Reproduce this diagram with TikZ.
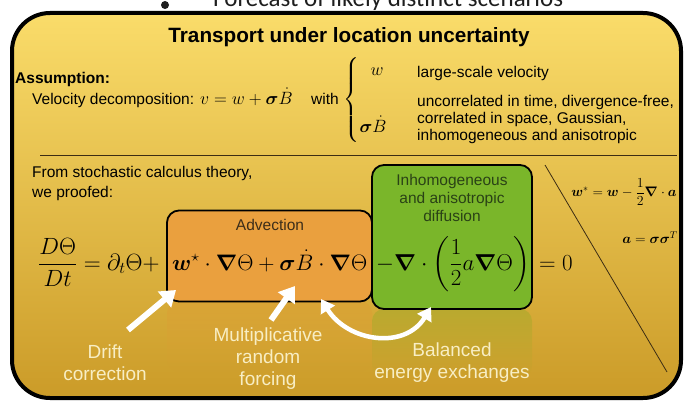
\RequirePackage{fix-cm}
\documentclass[tikz,border=0pt]{standalone}
\usepackage{amsmath,amssymb}
\usepackage[no-math]{fontspec}
\setmainfont{Liberation Sans}
\newfontfamily\slidefont{Carlito}
\usetikzlibrary{arrows.meta,fadings}
\definecolor{bgtop}{RGB}{250,220,106}
\definecolor{bgmid}{RGB}{236,192,78}
\definecolor{bgbot}{RGB}{203,155,40}
\definecolor{orangebox}{RGB}{234,160,62}
\definecolor{greenbox}{RGB}{122,182,42}
\definecolor{greentext}{RGB}{42,66,22}
\definecolor{advtext}{RGB}{60,45,25}
\definecolor{cream}{RGB}{248,238,196}
\definecolor{topgray}{RGB}{30,30,30}
\definecolor{rulecol}{RGB}{60,45,20}
\tikzfading[name=reflfade, top color=transparent!45, bottom color=transparent!100]
\tikzset{
  body/.style={font=\fontsize{15.5}{17}\selectfont, inner sep=0pt, anchor=base west},
  mathbig/.style={font=\fontsize{23}{27}\selectfont, inner sep=0pt, anchor=base west},
  mathmid/.style={font=\fontsize{17.8}{20}\selectfont, inner sep=0pt},
  mathsmall/.style={font=\fontsize{13.8}{15}\selectfont, inner sep=0pt},
  boxlabel/.style={font=\fontsize{15.5}{18}\selectfont, inner sep=0pt, align=center},
  armlabel/.style={font=\fontsize{19}{22}\selectfont, text=cream, inner sep=0pt, align=center},
  advbox/.style={draw=black, line width=1.8pt, rounded corners=12pt, fill=orangebox, inner sep=0pt},
  difbox/.style={draw=black, line width=1.8pt, rounded corners=12pt, fill=greenbox, inner sep=0pt},
  warrow/.style={draw=white, line width=6pt, -{Triangle[width=20pt,length=15pt]}},
  wdarrow/.style={draw=white, line width=4.5pt, {Triangle[width=16pt,length=13pt]}-{Triangle[width=16pt,length=13pt]}},
}
\begin{document}
\begin{tikzpicture}[x=1pt,y=-1pt]
\useasboundingbox (0,0) rectangle (684,404);
\fill[white] (0,0) rectangle (684,404);
\begin{scope}
\clip (0,0) rectangle (684,404);
% slide text above, cut off
\node[font=\slidefont\fontsize{25}{28}\selectfont, text=topgray, anchor=base west, inner sep=0pt] (fc) at (213,7) {Forecast of likely distinct scenarios};
\node[circle, fill=topgray, inner sep=0pt, minimum size=8pt] (bullet) at (165,5) {};
% panel
\draw[line width=4pt, rounded corners=38pt, top color=bgtop, middle color=bgmid, bottom color=bgbot] (12,13) rectangle (681,398);
% title
\node[font=\fontsize{20.7}{24}\selectfont\bfseries, anchor=base, inner sep=0pt] (title) at (349,43) {Transport under location uncertainty};
% assumption
\node[body, font=\fontsize{15.5}{17}\selectfont\bfseries] (assum) at (15,83) {Assumption:};
\node[body] (velo) at (32,104) {Velocity decomposition:};
\node[mathmid, anchor=base west] (veq) at (200,104) {$v=w+\boldsymbol{\sigma}\dot{B}$};
\node[body] (with) at (311,104) {with};
\node[mathmid] (brace) at (352,100) {$\left\{\vrule height 36pt depth 36pt width 0pt\right.$};
\node[mathmid] (wcase) at (377,72) {$w$};
\node[mathmid] (scase) at (373,124) {$\boldsymbol{\sigma}\dot{B}$};
\node[body] (d1) at (417,77) {large-scale velocity};
\node[body] (d2) at (417,106) {uncorrelated in time, divergence-free,};
\node[body] (d3) at (417,123) {correlated in space, Gaussian,};
\node[body] (d4) at (417,140) {inhomogeneous and anisotropic};
% separator
\coordinate (sepL) at (40,155);
\coordinate (sepR) at (677,155);
\draw[rulecol, line width=0.9pt] (sepL) -- (sepR);
\node[body] (from1) at (32,177) {From stochastic calculus theory,};
\node[body] (from2) at (32,197) {we proofed:};
% reflections
\fill[orangebox!55!bgbot, path fading=reflfade, rounded corners=12pt] (167,301) rectangle (372,372);
\fill[greenbox!50!bgbot, path fading=reflfade, rounded corners=12pt] (372,309) rectangle (532,378);
% boxes
\node[advbox, minimum width=205pt, minimum height=91pt] (adv) at (269.5,256) {};
\node[difbox, minimum width=160pt, minimum height=144pt] (dif) at (452,237) {};
\node[boxlabel, text=advtext] (advlab) at (270,225) {Advection};
\node[boxlabel, text=greentext] (diflab) at (452,198) {Inhomogeneous\\and anisotropic\\diffusion};
% equation
\node[mathbig, font=\fontsize{23.5}{27}\selectfont] (eqA) at (38,270) {$\displaystyle\frac{D\Theta}{Dt}=\partial_t\Theta+$};
\node[mathbig, font=\fontsize{22.4}{27}\selectfont] (eqB) at (172,270) {$\boldsymbol{w}^{\star}\cdot\boldsymbol{\nabla}\Theta+\boldsymbol{\sigma}\dot{B}\cdot\boldsymbol{\nabla}\Theta$};
\node[mathbig] (eqC) at (376,270) {$\displaystyle-\boldsymbol{\nabla}\cdot\left(\frac{1}{2}a\boldsymbol{\nabla}\Theta\right)$};
\node[mathbig] (eqD) at (539,270) {$=0$};
% right side
\coordinate (diagA) at (545,165);
\coordinate (diagB) at (667,372);
\draw[rulecol, line width=0.8pt] (diagA) -- (diagB);
\node[mathsmall] (wstar) at (624,192) {$\boldsymbol{w}^{*}=\boldsymbol{w}-\dfrac{1}{2}\boldsymbol{\nabla}\cdot\boldsymbol{a}$};
\node[mathsmall, font=\fontsize{14}{16}\selectfont] (adef) at (650,238) {$\boldsymbol{a}=\boldsymbol{\sigma}\boldsymbol{\sigma}^{T}$};
% arrow labels
\node[armlabel] (drift) at (105,363) {Drift\\correction};
\node[armlabel] (multi) at (268,359) {Multiplicative\\random\\forcing};
\node[armlabel] (bal) at (452,363) {Balanced\\energy exchanges};
% arrows
\coordinate (t1) at (128,330);
\coordinate (h1) at (176,290);
\coordinate (t2) at (271,320);
\coordinate (h2) at (295,286);
\coordinate (h3a) at (321,299);
\coordinate (h3b) at (431,307);
\draw[warrow] (t1) -- (h1);
\draw[warrow] (t2) -- (h2);
\draw[wdarrow] (h3a) .. controls (348,342) and (405,350) .. (h3b);
\end{scope}
\end{tikzpicture}
\end{document}
